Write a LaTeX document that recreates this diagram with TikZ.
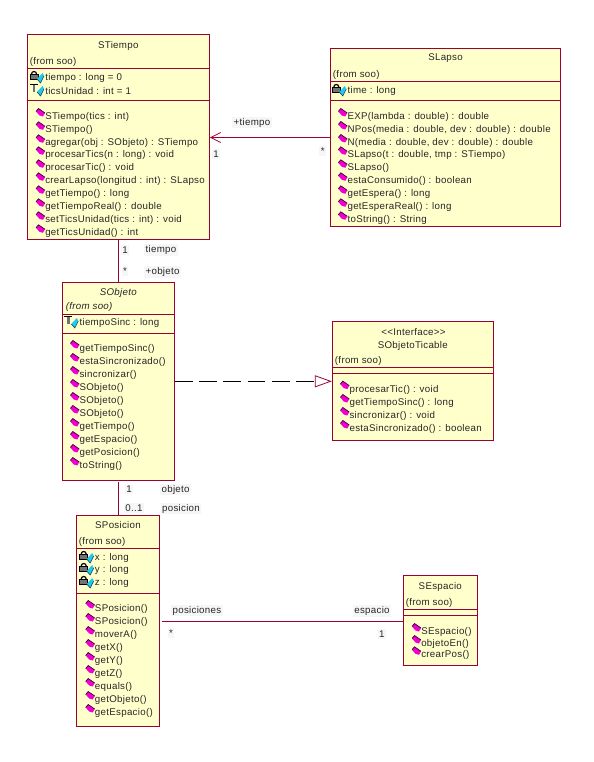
\documentclass[tikz,border=0pt]{standalone}
\usepackage{fontspec}
\setmainfont{Liberation Sans}[LetterSpace=3]
\usetikzlibrary{arrows.meta,fit}
\definecolor{umlfill}{HTML}{FFFFCC}
\definecolor{umlline}{HTML}{990033}
\definecolor{labelbg}{HTML}{F6F6F6}
\definecolor{opmag}{HTML}{F000D0}
\definecolor{attcy}{HTML}{22C8F0}
\tikzset{
  classbox/.style={draw=umlline,fill=umlfill,line width=0.75pt,inner sep=0pt},
  divider/.style={draw=umlline,line width=0.75pt},
  assoc/.style={draw=umlline,line width=0.75pt},
  rowtext/.style={font=\fontsize{7.3pt}{9pt}\selectfont,inner sep=0pt,anchor=west,text=black!85,yshift=-0.9pt},
  titletext/.style={font=\fontsize{7.3pt}{9pt}\selectfont,inner sep=0pt,anchor=center,text=black!85,yshift=-0.6pt},
  linklabel/.style={font=\fontsize{7.3pt}{9pt}\selectfont,inner sep=1pt,fill=labelbg,text=black!85},
  opicon/.pic={
    \fill[opmag] (-4.5,-1.5)--(-2,-4.5)--(4.5,0)--(2.5,3.5)--(-1,2.5)--cycle;
    \draw[black!80!opmag,line width=0.5pt] (-4.5,-1.5)--(-2,-4.5)--(4.5,0);
  },
  aticon/.pic={
    \fill[attcy] (-3.5,1)--(2,-5)--(3.5,-2)--(0,5)--cycle;
    \draw[black!70!attcy,line width=0.4pt] (-3.5,1)--(0,5)--(3.5,-2);
  },
  lockicon/.pic={
    \fill[black!55,draw=black,line width=0.4pt] (-4,-1) rectangle (4,4);
    \draw[black,line width=0.9pt] (-2.5,-1) arc[start angle=180,end angle=360,radius=2.5];
  },
  hat/.pic={
    \fill[black] (-4.5,-4) rectangle (4,-2.6);
    \fill[black!55] (-1.3,-2.6) rectangle (1.3,4);
  }
}
\newcommand{\oprow}[3]{\pic at (#1-4.5,#2-2.7) {opicon}; \node[rowtext] at (#1,#2) {#3};}
\newcommand{\lockrow}[3]{\pic at (#1-11,#2-2) {lockicon}; \pic at (#1-4.5,#2+1) {aticon}; \node[rowtext] at (#1,#2) {#3};}
\newcommand{\hatrow}[3]{\pic at (#1-11,#2-2) {hat}; \pic at (#1-4.5,#2+1) {aticon}; \node[rowtext] at (#1,#2) {#3};}
\begin{document}
\begin{tikzpicture}[x=0.75pt,y=-0.75pt]
\useasboundingbox (0,0) rectangle (593,762);
\fill[white] (0,0) rectangle (593,762);

% boxes
\node[classbox,fit={(27.3,34.7)(209.3,239.3)}] (stiempo) {};
\node[classbox,fit={(330.3,48.7)(560.7,226.3)}] (slapso) {};
\node[classbox,fit={(62.3,282.3)(174.3,480.3)}] (sobjeto) {};
\node[classbox,fit={(332.3,321.3)(493.3,440.3)}] (ticable) {};
\node[classbox,fit={(76.3,515.3)(159.3,726.3)}] (sposicion) {};
\node[classbox,fit={(403.3,575.3)(477.3,665.3)}] (sespacio) {};

% dividers
\foreach \b/\y in {stiempo/68.3,stiempo/100.3,slapso/81.3,slapso/100.7,sobjeto/314.3,sobjeto/333.3,ticable/367.3,ticable/373.3,sposicion/548.3,sposicion/593.3,sespacio/609.3,sespacio/615.3}
  \draw[divider] (\b.west |- 0,\y) -- (\b.east |- 0,\y);

% STiempo
\node[titletext] (t1) at (118.3,44.7) {STiempo};
\node[rowtext] (t2) at (29.5,61) {(from soo)};
\lockrow{45}{77}{tiempo : long = 0}
\hatrow{45}{90}{ticsUnidad : int = 1}
\oprow{45}{115.7}{STiempo(tics : int)}
\oprow{45}{129}{STiempo()}
\oprow{45}{142}{agregar(obj : SObjeto) : STiempo}
\oprow{45}{154}{procesarTics(n : long) : void}
\oprow{45}{167}{procesarTic() : void}
\oprow{45}{180}{crearLapso(longitud : int) : SLapso}
\oprow{45}{193}{getTiempo() : long}
\oprow{45}{206}{getTiempoReal() : double}
\oprow{45}{219}{setTicsUnidad(tics : int) : void}
\oprow{45}{232}{getTicsUnidad() : int}

% SLapso
\node[titletext] (l1) at (445.5,57.7) {SLapso};
\node[rowtext] (l2) at (332.7,74) {(from soo)};
\lockrow{347.3}{90}{time : long}
\oprow{347.3}{115.7}{EXP(lambda : double) : double}
\oprow{347.3}{128.7}{NPos(media : double, dev : double) : double}
\oprow{347.3}{141.7}{N(media : double, dev : double) : double}
\oprow{347.3}{154}{SLapso(t : double, tmp : STiempo)}
\oprow{347.3}{167}{SLapso()}
\oprow{347.3}{180}{estaConsumido() : boolean}
\oprow{347.3}{193}{getEspera() : long}
\oprow{347.3}{206}{getEsperaReal() : long}
\oprow{347.3}{219}{toString() : String}

% SObjeto
\node[titletext,font=\fontsize{7.3pt}{9pt}\selectfont\itshape] (o1) at (118.3,291.7) {SObjeto};
\node[rowtext,font=\fontsize{7.3pt}{9pt}\selectfont\itshape] (o2) at (65.5,305.7) {(from soo)};
\hatrow{79.3}{322}{tiempoSinc : long}
\oprow{79.3}{347.7}{getTiempoSinc()}
\oprow{79.3}{360.7}{estaSincronizado()}
\oprow{79.3}{373.7}{sincronizar()}
\oprow{79.3}{386.7}{SObjeto()}
\oprow{79.3}{399.7}{SObjeto()}
\oprow{79.3}{412.7}{SObjeto()}
\oprow{79.3}{425.7}{getTiempo()}
\oprow{79.3}{438.7}{getEspacio()}
\oprow{79.3}{451.7}{getPosicion()}
\oprow{79.3}{464.7}{toString()}

% SObjetoTicable
\node[titletext] (i0) at (413.5,331.7) {<{}<Interface>{}>};
\node[titletext] (i1) at (412.8,345) {SObjetoTicable};
\node[rowtext] (i2) at (334.7,360) {(from soo)};
\oprow{349.3}{388.3}{procesarTic() : void}
\oprow{349.3}{401.7}{getTiempoSinc() : long}
\oprow{349.3}{414.7}{sincronizar() : void}
\oprow{349.3}{427.7}{estaSincronizado() : boolean}

% SPosicion
\node[titletext] (p1) at (118,524.7) {SPosicion};
\node[rowtext] (p2) at (78.5,541) {(from soo)};
\lockrow{94.7}{557}{x : long}
\lockrow{94.7}{569}{y : long}
\lockrow{94.7}{582}{z : long}
\oprow{94.7}{607.7}{SPosicion()}
\oprow{94.7}{620.7}{SPosicion()}
\oprow{94.7}{633.7}{moverA()}
\oprow{94.7}{646.7}{getX()}
\oprow{94.7}{659.7}{getY()}
\oprow{94.7}{672.7}{getZ()}
\oprow{94.7}{685.7}{equals()}
\oprow{94.7}{698.7}{getObjeto()}
\oprow{94.7}{711.7}{getEspacio()}

% SEspacio
\node[titletext] (e1) at (440.3,585.7) {SEspacio};
\node[rowtext] (e2) at (405.5,602) {(from soo)};
\oprow{421}{630.7}{SEspacio()}
\oprow{421}{642.7}{objetoEn()}
\oprow{421}{654}{crearPos()}

% connectors
\draw[assoc,-{Straight Barb[length=7.5pt,width=7.5pt,line width=0.6pt]}] (slapso.west) -- (slapso.west -| stiempo.east);
\draw[assoc] (sobjeto.north |- stiempo.south) -- (sobjeto.north);
\draw[assoc] ([yshift=-1.2pt]sobjeto.south) -- ([yshift=-1.2pt]sobjeto.south |- sposicion.north);
\draw[line width=0.75pt,black,dash pattern=on 13.3pt off 4.9pt,
  -{Triangle[open,length=12.75pt,width=9pt,color=umlline,line width=0.6pt]}] (sobjeto.east) -- (sobjeto.east -| ticable.west);
\draw[assoc,shorten >=1.5pt] ([yshift=-0.6pt]sespacio.west) -- ([yshift=-0.6pt]sespacio.west -| sposicion.east);

% connector labels
\node[linklabel] (a1) at (252,122.5) {+tiempo};
\node[linklabel] (a2) at (216,154) {1};
\node[linklabel] (a3) at (322.7,151) {*};
\node[linklabel] (b1) at (125,250) {1};
\node[linklabel,anchor=west] (b2) at (144,250) {tiempo};
\node[linklabel] (b3) at (125,271) {*};
\node[linklabel,anchor=west] (b4) at (144,272) {+objeto};
\node[linklabel] (c1) at (129,489.5) {1};
\node[linklabel,anchor=west] (c2) at (160,489.5) {objeto};
\node[linklabel] (c3) at (134,508) {0..1};
\node[linklabel,anchor=west] (c4) at (160.5,508.5) {posicion};
\node[linklabel,anchor=west] (d1) at (171,610.5) {posiciones};
\node[linklabel] (d2) at (171,633) {*};
\node[linklabel] (d3) at (372,611) {espacio};
\node[linklabel] (d4) at (381.7,634) {1};
\end{tikzpicture}
\end{document}
